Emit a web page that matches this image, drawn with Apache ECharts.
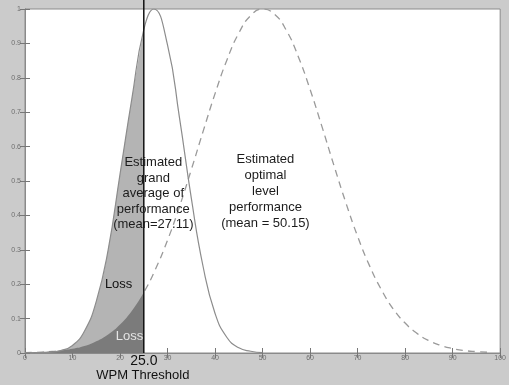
<!DOCTYPE html>
<html><head><meta charset="utf-8">
<script src="https://cdn.jsdelivr.net/npm/echarts@6/dist/echarts.min.js"></script>
<style>html,body{margin:0;padding:0;background:#cbcbcb}#c{width:509px;height:385px}</style>
</head><body><div id="c"></div>
<script>
// Estimated grand average of performance (solid curve)
const grandX = [0, 2.5, 5, 7.5, 10, 12.5, 15, 17.5, 20, 22.5, 25, 27.1, 30, 32.5, 35, 37.5, 40, 42.5, 45, 47.5, 50];
const grandY = [0, 0.001, 0.002, 0.007, 0.022, 0.063, 0.15, 0.30, 0.52, 0.74, 0.94, 1.0, 0.895, 0.685, 0.45, 0.25, 0.115, 0.045, 0.015, 0.005, 0.001];
// Estimated optimal level performance (dashed curve)
const optX = [0, 2.5, 5, 7.5, 10, 12.5, 15, 17.5, 20, 22.5, 25, 27.5, 30, 32.5, 35, 37.5, 40, 42.5, 45, 47.5, 50, 52.5, 55, 57.5, 60, 62.5, 65, 67.5, 70, 72.5, 75, 77.5, 80, 82.5, 85, 87.5, 90, 92.5, 95, 97.5];
const optY = [0.001, 0.002, 0.004, 0.007, 0.012, 0.02, 0.034, 0.054, 0.083, 0.123, 0.176, 0.245, 0.328, 0.425, 0.533, 0.645, 0.754, 0.852, 0.93, 0.981, 1.0, 0.985, 0.938, 0.862, 0.766, 0.658, 0.546, 0.438, 0.339, 0.254, 0.184, 0.128, 0.087, 0.057, 0.036, 0.022, 0.013, 0.007, 0.004, 0.002];
const threshold = 25;
const thresholdLabel = '25.0';
const xTickValues = [0, 10, 20, 30, 40, 50, 60, 70, 80, 90, 100];
const yTickValues = [0, 0.1, 0.2, 0.3, 0.4, 0.5, 0.6, 0.7, 0.8, 0.9, 1];

const zip = (xs, ys) => xs.map((x, i) => [x, ys[i]]);
const grand = zip(grandX, grandY);
const opt = zip(optX, optY);
const grandFill = grand.filter(p => p[0] <= threshold);
const optFill = opt.filter(p => p[0] <= threshold);

const chart = echarts.init(document.getElementById('c'));
const axisCommon = {
  type: 'value',
  axisLine: { show: true, lineStyle: { color: '#8a8a8a', width: 1 } },
  axisTick: { show: true, inside: true, length: 5, lineStyle: { color: '#777' } },
  splitLine: { show: false },
  axisLabel: { color: '#6e6e6e', fontSize: 7, fontFamily: 'Liberation Sans' }
};
chart.setOption({
  backgroundColor: '#cbcbcb',
  animation: false,
  grid: { left: 25, right: 7, top: 9, bottom: 32, show: true, backgroundColor: '#ffffff', borderColor: '#8a8a8a', borderWidth: 1 },
  xAxis: [
    Object.assign({}, axisCommon, { min: xTickValues[0], max: xTickValues[xTickValues.length - 1], interval: 10,
      axisLabel: Object.assign({}, axisCommon.axisLabel, { margin: 2 }) }),
    Object.assign({}, axisCommon, { position: 'top', min: 0, max: 100, interval: 10, axisLabel: { show: false } })
  ],
  yAxis: [
    Object.assign({}, axisCommon, { min: yTickValues[0], max: yTickValues[yTickValues.length - 1], interval: 0.1,
      axisLabel: Object.assign({}, axisCommon.axisLabel, { margin: 4 }) }),
    Object.assign({}, axisCommon, { position: 'right', min: 0, max: 1, interval: 0.1, axisLabel: { show: false } })
  ],
  series: [
    { type: 'line', data: opt, smooth: true, symbol: 'none', z: 1,
      lineStyle: { color: '#9a9a9a', width: 1.3, type: [7, 5] } },
    { type: 'line', data: grandFill, smooth: true, symbol: 'none', z: 2,
      lineStyle: { width: 0 }, areaStyle: { color: '#b4b4b4', opacity: 1 } },
    { type: 'line', data: optFill, smooth: true, symbol: 'none', z: 3,
      lineStyle: { width: 0 }, areaStyle: { color: '#7b7b7b', opacity: 1 } },
    { type: 'line', data: grand, smooth: true, symbol: 'none', z: 4,
      lineStyle: { color: '#8c8c8c', width: 1.2 } },
    { type: 'line', data: [[threshold, 0], [threshold, 1.03]], symbol: 'none', z: 5, clip: false,
      lineStyle: { color: '#111111', width: 1.5 } }
  ]
});

const px = (x, y) => chart.convertToPixel({ gridIndex: 0 }, [x, y]);
const font = 'Liberation Sans, Arial, sans-serif';
const a1 = px(27.0, 0.552);
const a2 = px(50.6, 0.564);
const l1 = px(19.7, 0.20);
const l2 = px(22.0, 0.047);
const th = px(threshold, 0);
chart.setOption({
  graphic: [
    { type: 'text', x: a1[0], y: a1[1] - 8, z: 10, style: { text: 'Estimated\ngrand\naverage of\nperformance\n(mean=27.11)', align: 'center', verticalAlign: 'top', lineHeight: 15.5, fill: '#1c1c1c', font: '13px ' + font } },
    { type: 'text', x: a2[0], y: a2[1] - 8, z: 10, style: { text: 'Estimated\noptimal\nlevel\nperformance\n(mean = 50.15)', align: 'center', verticalAlign: 'top', lineHeight: 16, fill: '#1c1c1c', font: '13px ' + font } },
    { type: 'text', x: l1[0], y: l1[1], z: 10, style: { text: 'Loss', align: 'center', verticalAlign: 'middle', fill: '#111', font: '13px ' + font } },
    { type: 'text', x: l2[0], y: l2[1], z: 10, style: { text: 'Loss', align: 'center', verticalAlign: 'middle', fill: '#e4e4e4', font: '13px ' + font } },
    { type: 'text', x: th[0], y: th[1] + 8, z: 10, style: { text: thresholdLabel, align: 'center', verticalAlign: 'middle', fill: '#111', font: '14px ' + font } },
    { type: 'text', x: th[0] - 1, y: th[1] + 22, z: 10, style: { text: 'WPM Threshold', align: 'center', verticalAlign: 'middle', fill: '#111', font: '13px ' + font } }
  ]
});
</script>
</body></html>
